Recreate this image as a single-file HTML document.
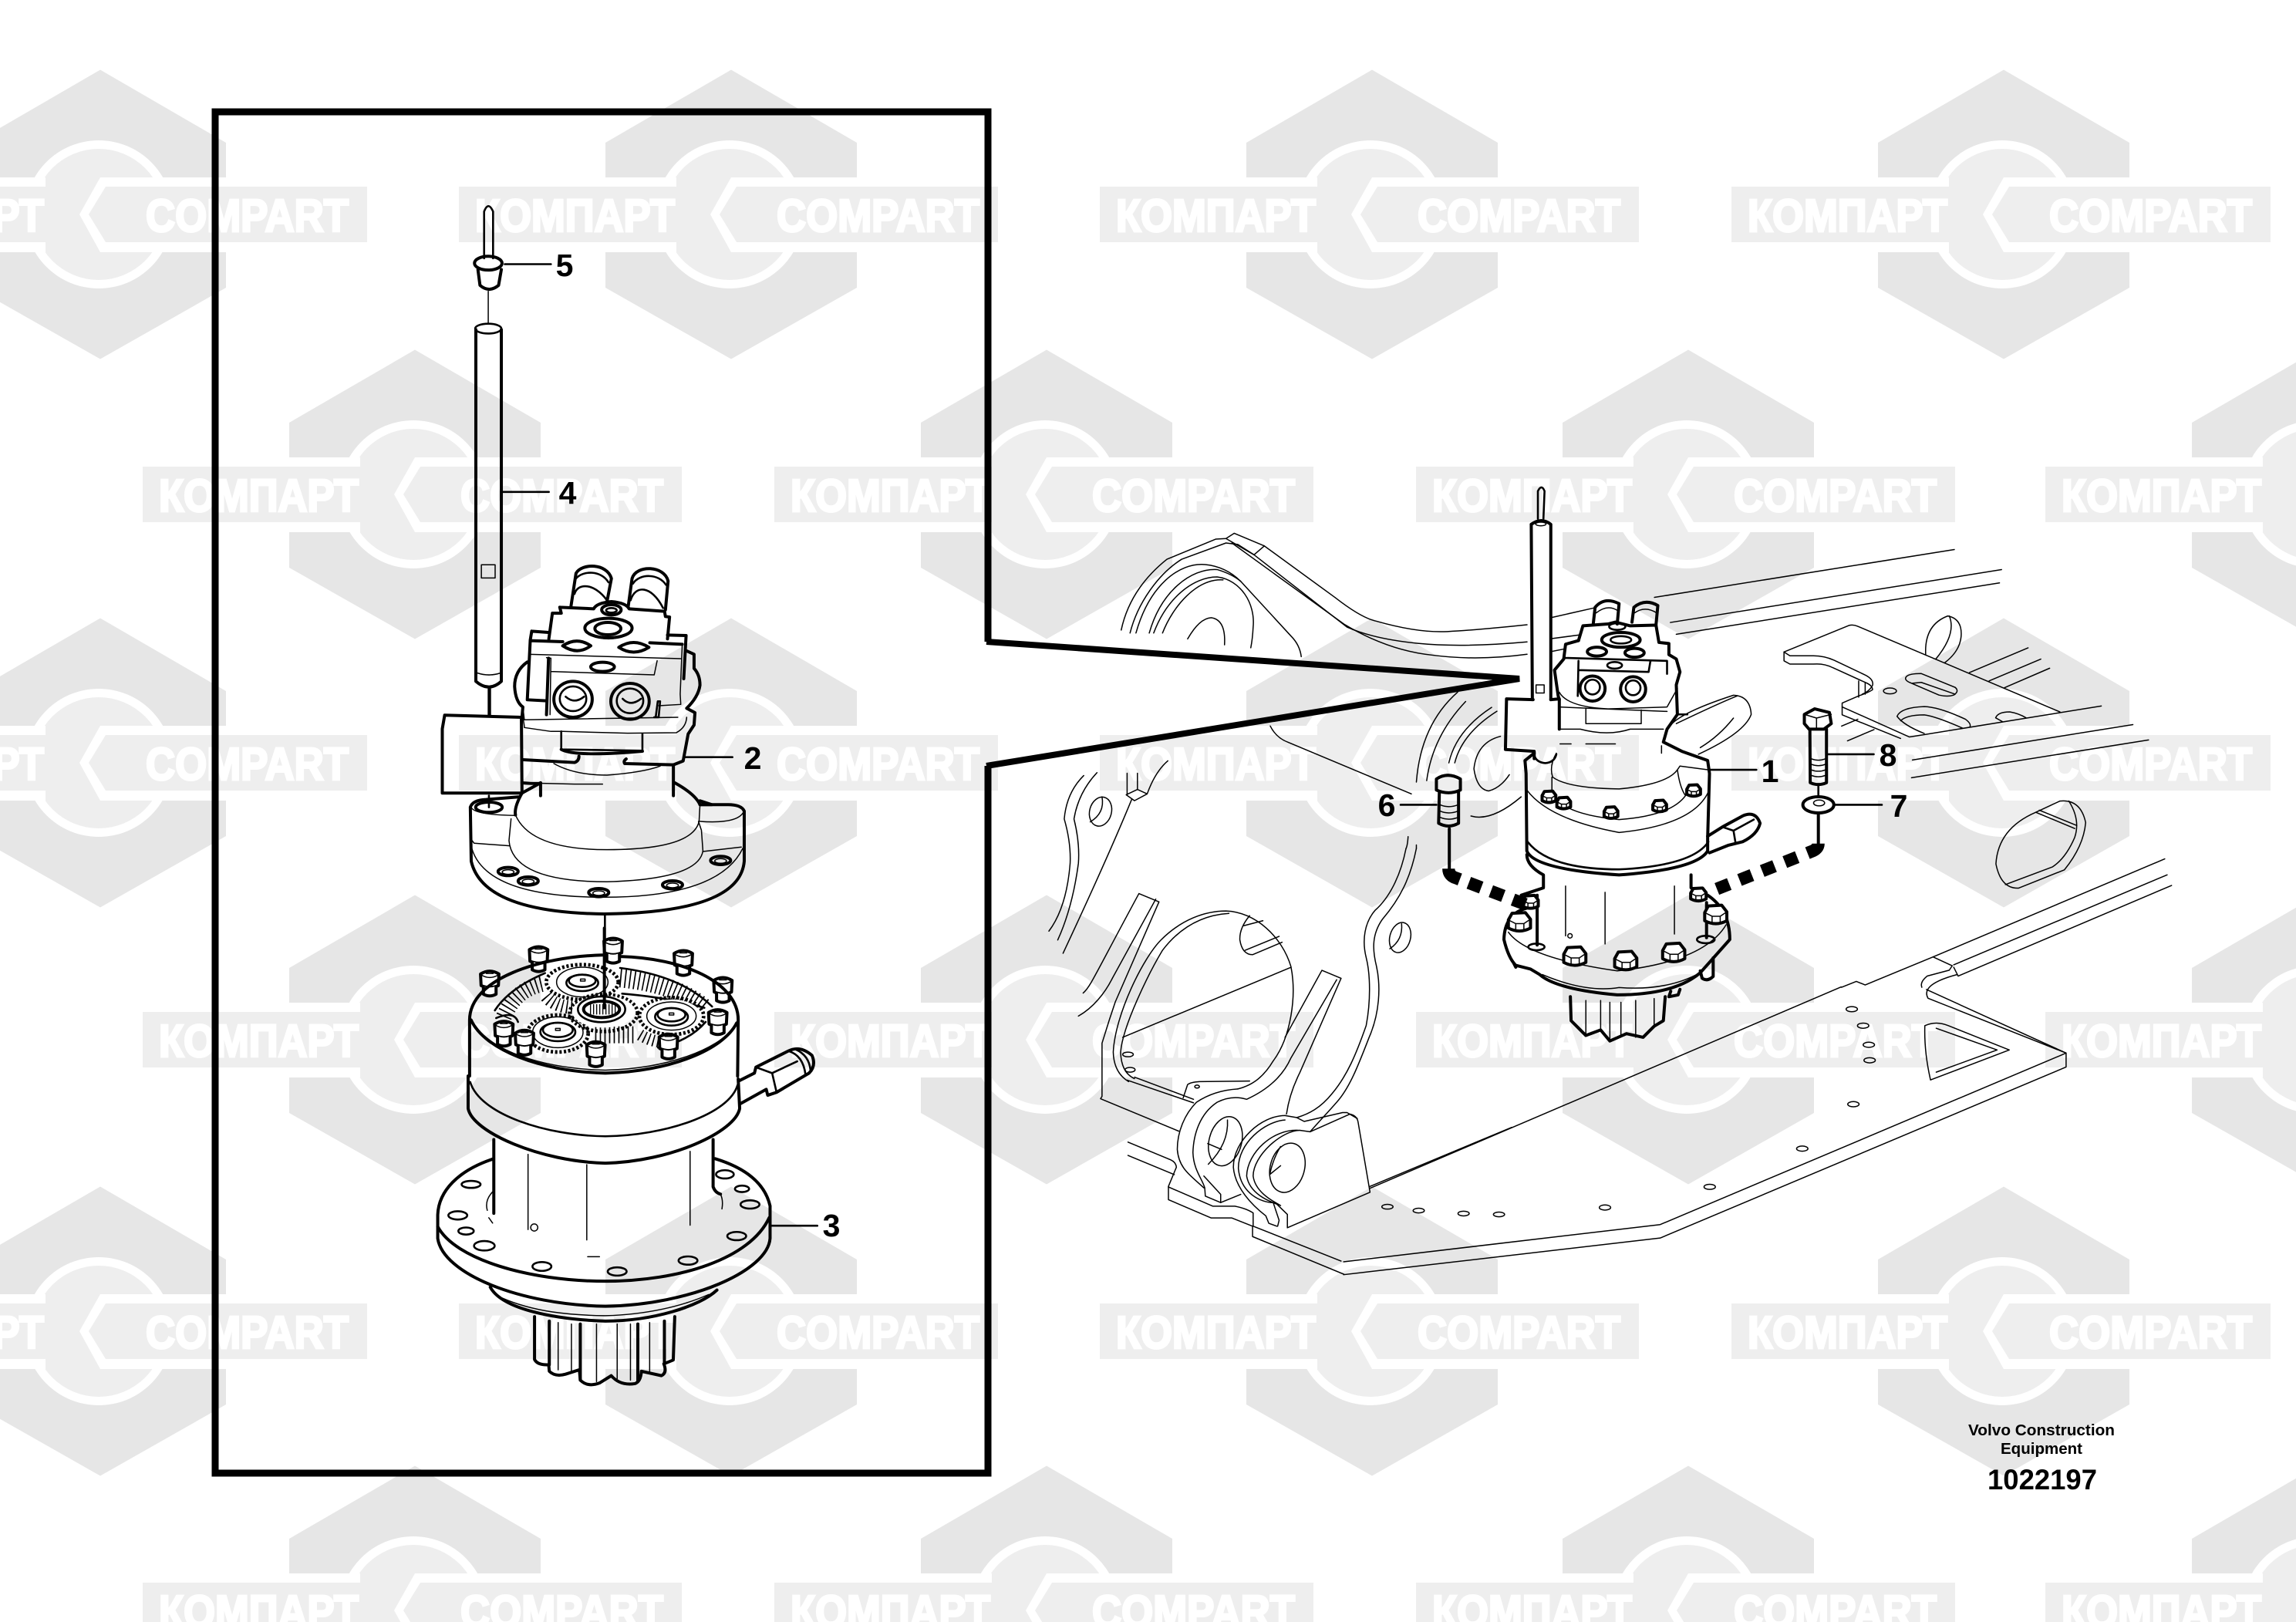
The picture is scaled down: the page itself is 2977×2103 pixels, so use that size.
<!DOCTYPE html>
<html><head><meta charset="utf-8"><style>
html,body{margin:0;padding:0;background:#fff;width:2977px;height:2103px;overflow:hidden}
svg{position:absolute;left:0;top:0;display:block;overflow:hidden}
.T,.t,.m{fill:none;stroke:#000;vector-effect:non-scaling-stroke;stroke-linejoin:round;stroke-linecap:round}
.T{stroke-width:4}.m{stroke-width:2.6}.t{stroke-width:1.5}
.W{fill:#fff}
text.n{font-family:"Liberation Sans",sans-serif;font-weight:700;font-size:41px;text-anchor:middle;fill:#000}
text.f{font-family:"Liberation Sans",sans-serif;font-weight:700;text-anchor:middle;fill:#000}
text.w{font-family:"Liberation Sans",sans-serif;font-weight:700;font-size:59px;fill:#fff;stroke:#fff;stroke-width:3}
</style></head><body>
<svg width="2977" height="2103" viewBox="0 0 2977 2103" xmlns="http://www.w3.org/2000/svg">
<defs>
<g id="wm">
<polygon points="0,-187.5 163,-93 163,95 0,187.5 -163,95 -163,-93" fill="#e6e6e6"/>
<circle r="96" cx="-2" fill="#fff"/><circle r="85" cx="-2" fill="#eee"/>
<rect x="-163" y="-48" width="92" height="97" fill="#fff"/>
<rect x="-353" y="-36" width="282" height="72" fill="#eee"/>
<polygon points="0,-48 -27,0 0,49 170,49 170,-48" fill="#fff"/>
<polygon points="-15,0 7,-36 346,-36 346,36 7,36" fill="#eee"/>
<text class="w" x="-332" y="22" textLength="259" lengthAdjust="spacingAndGlyphs">КОМПАРТ</text>
<text class="w" x="59" y="22" textLength="263" lengthAdjust="spacingAndGlyphs">COMPART</text>
</g>
<g id="sb">
<path class="W" d="M-32 -28 Q0 -48 32 -28 L30 12 Q0 26 -30 12Z"/>
<path class="T" d="M-32 -28 Q0 -48 32 -28 L30 12 Q0 26 -30 12Z"/>
<path class="t" d="M-28 -24 Q0 -8 28 -24 M-12 -30 H12"/>
<path class="W" d="M-22 14 L-22 42 Q0 54 22 42 L22 14 Q0 24 -22 14Z"/>
<path class="T" d="M-22 16 L-22 42 Q0 54 22 42 L22 16"/>
</g>
<g id="hb">
<path class="W" d="M-30 -8 L-20 -26 L16 -28 L30 -10 L30 14 Q0 30 -30 14Z"/>
<path class="T" d="M-30 -8 L-20 -26 L16 -28 L30 -10 L30 14 Q0 30 -30 14Z"/>
<path class="t" d="M-30 -8 L-10 2 L12 2 L30 -10 M-10 2 V22 M12 2 V22"/>
</g>
</defs>

<!-- watermark -->
<use href="#wm" x="130" y="278"/><use href="#wm" x="948" y="278"/><use href="#wm" x="1779" y="278"/><use href="#wm" x="2598" y="278"/>
<use href="#wm" x="538" y="641"/><use href="#wm" x="1357" y="641"/><use href="#wm" x="2189" y="641"/><use href="#wm" x="3005" y="641"/>
<use href="#wm" x="130" y="989"/><use href="#wm" x="948" y="989"/><use href="#wm" x="1779" y="989"/><use href="#wm" x="2598" y="989"/>
<use href="#wm" x="538" y="1348"/><use href="#wm" x="1357" y="1348"/><use href="#wm" x="2189" y="1348"/><use href="#wm" x="3005" y="1348"/>
<use href="#wm" x="130" y="1726"/><use href="#wm" x="948" y="1726"/><use href="#wm" x="1779" y="1726"/><use href="#wm" x="2598" y="1726"/>
<use href="#wm" x="538" y="2088"/><use href="#wm" x="1357" y="2088"/><use href="#wm" x="2189" y="2088"/><use href="#wm" x="3005" y="2088"/>

<!-- background: lower plate -->
<g transform="translate(1300,650) scale(1.0526,.6698)">
<path class="t" d="M1033 940 L452 1330"/>
<path class="t" d="M1176 916 Q1130 935 1140 962 L1310 1068 L1310 1095 L810 1426 L420 1497"/>
<path class="t" d="M1138 945 L1310 1068 L810 1400 L420 1472"/>
<path class="t" d="M1136 1015 Q1150 1005 1165 1015 L1240 1062 L1143 1120 Q1135 1065 1136 1015 Z M1150 1020 L1225 1062 L1150 1105"/>
<ellipse class="t" cx="742" cy="1367" rx="7" ry="5"/><ellipse class="t" cx="871" cy="1327" rx="7" ry="5"/><ellipse class="t" cx="985" cy="1253" rx="7" ry="5"/><ellipse class="t" cx="1048" cy="1167" rx="7" ry="5"/><ellipse class="t" cx="1046" cy="983" rx="7" ry="5"/><ellipse class="t" cx="1060" cy="1015" rx="7" ry="5"/><ellipse class="t" cx="1067" cy="1052" rx="7" ry="5"/><ellipse class="t" cx="1068" cy="1082" rx="7" ry="5"/>
</g>

<!-- background: upper left -->
<g transform="translate(1360,660) scale(.3827)">
<path class="t" d="M245 410 Q275 270 400 170 L565 102 L600 100 L628 82 L730 125 L970 300 Q1060 370 1110 380 Q1250 420 1350 415 Q1450 410 1620 392"/>
<path class="t" d="M275 420 C300 320 370 220 450 170 L600 115 L640 120 L695 155 L1010 400 Q1100 440 1250 455 Q1400 470 1620 450"/>
<path class="t" d="M600 100 L695 155 L730 125 M620 115 L1000 390 Q1150 480 1300 495 Q1450 515 1620 492"/>
<path class="t" d="M295 420 C340 260 440 180 530 188 Q600 195 650 245 L820 430 Q850 460 855 500"/>
<path class="t" d="M340 420 C380 280 480 200 570 205 Q620 220 650 245"/>
<path class="t" d="M355 420 C400 300 490 230 570 230 C650 240 700 320 692 400 Q690 440 684 470"/>
<path class="t" d="M385 420 C420 330 500 235 590 240"/>
<path class="t" d="M470 440 Q510 370 550 368 Q600 375 595 460"/>
<path class="t" d="M750 735 Q770 775 810 790 L1228 965"/>
<path class="t" d="M1245 925 Q1260 730 1385 620 M1280 920 Q1300 770 1412 652 M1355 860 Q1380 750 1500 672 M1375 860 Q1400 760 1518 685"/>
<path class="t" d="M1530 770 Q1450 790 1440 880 Q1450 950 1490 955 Q1530 945 1560 900 M1430 1040 Q1500 1060 1600 975"/>
<path class="t" d="M1217 1110 Q1215 1140 1210 1150 M1245 1138 V1150"/>
<path class="t" d="M118 903 Q60 960 52 1050 Q75 1130 72 1200 Q60 1350 0 1430 M163 893 Q100 960 85 1050 Q105 1130 100 1200 Q80 1350 30 1460"/>
<path class="t" d="M403 853 Q360 890 333 965 L300 950 L262 968 L290 988 L333 965 M265 895 V968 M300 895 V950 M280 985 Q200 1180 48 1505"/>
<ellipse class="t" cx="175" cy="1025" rx="37" ry="50" transform="rotate(15 175 1025)"/><path class="t" d="M180 975 Q190 1030 140 1060"/>
</g>

<!-- background: lower left with lugs -->
<g transform="translate(1360,1100) scale(.3827)">
<path class="t" d="M116 490 C140 470 150 440 305 153 L373 181 L225 520 L205 580 L180 660 V840 L175 848 L440 958"/>
<path class="t" d="M100 568 C150 540 190 490 215 440 L362 172"/>
<path class="t" d="M270 790 Q220 760 218 690 C225 560 320 370 380 310 C450 240 530 212 600 212 C700 215 790 300 820 400 C840 500 820 640 760 720 C730 770 700 790 680 800 Q660 810 640 815"/>
<path class="t" d="M290 780 Q245 760 243 690 C250 600 340 420 385 345 C450 260 530 225 610 220"/>
<path class="t" d="M265 785 L490 862 M290 775 L490 850"/>
<path class="t" d="M250 640 L820 403"/>
<path class="t" d="M680 228 Q645 270 647 310 Q655 360 690 360 L790 318 M660 262 L725 245 M665 345 L780 298"/>
<path class="t" d="M800 640 L925 413 L990 440 L850 760 Q815 830 805 900"/>
<path class="t" d="M975 445 L820 710 Q780 800 670 850 Q620 835 570 860 C510 900 490 970 488 1030 C490 1090 520 1120 528 1150 L530 1178 L582 1200 V1172 L525 1110"/>
<path class="t" d="M500 860 C460 900 435 960 435 1020 C440 1080 470 1100 525 1150 M500 860 Q560 820 640 815"/>
<path class="t" d="M455 845 L470 800 Q480 792 510 790 L680 788"/>
<ellipse class="t" cx="502" cy="807" rx="8" ry="5"/>
<ellipse class="t" cx="598" cy="992" rx="55" ry="85" transform="rotate(15 598 992)"/>
<path class="t" d="M605 920 Q610 1000 540 1070 M538 1000 L585 1020"/>
<path class="t" d="M800 905 C720 905 625 990 625 1080 C630 1150 690 1210 735 1245 L745 1270 L772 1280"/>
<path class="t" d="M800 920 C730 925 640 1000 642 1085 C650 1170 720 1200 760 1200 L780 1260 L775 1280"/>
<path class="t" d="M845 955 C760 950 672 1030 670 1110 C680 1170 745 1195 772 1205 L808 1240 V1285"/>
<path class="t" d="M850 955 C790 955 692 1040 692 1110 C700 1170 770 1200 785 1210"/>
<path class="t" d="M850 955 L885 960 L1020 900 Q1045 905 1048 930 L1088 1165 L808 1285"/>
<path class="t" d="M800 905 L840 912 L865 925 L995 895 L1010 895 L1045 915"/>
<path class="t" d="M1210 0 C1190 100 1150 170 1105 210 C1070 250 1060 310 1075 370 C1090 430 1090 520 1075 600 C1040 700 1010 770 960 830 C920 880 880 900 840 912"/>
<path class="t" d="M1245 0 C1225 100 1190 170 1130 240 C1095 290 1095 340 1110 400 C1125 470 1120 560 1085 640 C1050 730 1020 810 975 860 C940 900 920 920 885 960"/>
<ellipse class="t" cx="808" cy="1082" rx="58" ry="85" transform="rotate(15 808 1082)"/>
<path class="t" d="M785 1010 Q760 1050 748 1105 L785 1075"/>
<path class="t" d="M268 995 L405 1052 Q430 1060 432 1080 L405 1145 V1190 L550 1252 H620 L690 1280 V1315 L1000 1443"/>
<path class="t" d="M268 1040 L425 1105"/>
<path class="t" d="M405 1147 L555 1212 H630 Q670 1220 692 1235 V1280 L990 1398"/>
<path class="t" d="M582 1200 L650 1172 M1088 1145 L1568 945"/>
<ellipse class="t" cx="1147" cy="1214" rx="19" ry="8"/><ellipse class="t" cx="1253" cy="1227" rx="19" ry="8"/><ellipse class="t" cx="1405" cy="1237" rx="19" ry="8"/><ellipse class="t" cx="1525" cy="1240" rx="19" ry="8"/><ellipse class="t" cx="268" cy="698" rx="18" ry="8"/><ellipse class="t" cx="275" cy="750" rx="17" ry="8"/>
<ellipse class="t" cx="1190" cy="302" rx="35" ry="52" transform="rotate(15 1190 302)"/><path class="t" d="M1195 255 Q1200 310 1155 340"/>
</g>

<!-- background: right plate -->
<g transform="translate(2250,680) scale(.3827)">
<path class="t" d="M-274 247 L742 85 M-220 332 L902 153 M-200 372 L895 198"/>
<path class="t" d="M165 432 L385 342 Q400 338 415 345 L1100 635"/>
<path class="t" d="M165 432 V462 L185 473 H265 Q300 470 330 485 L440 535 Q465 545 465 560 Q450 570 420 580 L362 605 V645 L560 725"/>
<path class="t" d="M165 432 L185 445 H265 Q300 445 335 460 L440 510 Q470 525 465 545 Q455 565 430 575"/>
<path class="t" d="M418 530 V585 M440 535 V575"/>
<path class="t" d="M362 618 L590 720 L640 712 L1240 615"/>
<path class="t" d="M360 683 L415 660 M380 733 L470 695"/>
<path class="t" d="M580 515 Q590 505 630 505 L745 552 Q760 565 740 578 Q720 585 690 578 L590 535 Q570 525 580 515Z M600 538 L630 535 L745 575"/>
<ellipse class="t" cx="524" cy="564" rx="22" ry="10"/>
<path class="t" d="M548 650 Q560 620 640 617 Q690 618 780 660 Q800 675 795 685 M548 650 Q570 680 640 708 M560 665 Q580 645 640 645 Q680 650 770 690"/>
<path class="t" d="M882 655 Q890 635 930 635 Q960 640 985 655 M882 655 L905 668"/>
<path class="t" d="M645 440 Q640 340 720 310 Q770 320 765 380 Q760 430 710 468 M725 310 Q750 370 680 455"/>
<path class="t" d="M793 502 L992 418 M860 530 L1035 456 M912 553 L1065 487"/>
<path class="t" d="M600 798 L1347 678 M597 858 L1400 730"/>
<path class="t" d="M1018 975 L1100 937 Q1170 930 1187 1010 Q1180 1090 1115 1170 L960 1232 Q900 1235 883 1150 Q890 1030 1018 975 Z"/>
<path class="t" d="M1130 937 Q1170 1000 1150 1060 Q1120 1130 1075 1160 L915 1220 M1018 975 L1150 1030 M1030 968 L1157 1020"/>
<path class="t" d="M1455 1133 L670 1465 L440 1560 L410 1548 L360 1568"/>
<path class="t" d="M1463 1187 L740 1492 M1478 1223 L755 1530 L740 1500 M670 1465 L735 1495 L725 1510 L650 1530 Q625 1550 632 1568"/>
</g>

<!-- callout frame -->
<path d="M1281 832 L1281 145 L279 145 L279 1910 L1281 1910 L1281 993" fill="none" stroke="#000" stroke-width="9"/>
<path d="M1279 832 L1970 880 L1279 993" fill="none" stroke="#000" stroke-width="8"/>

<!-- rod in inset -->
<g transform="scale(.8929,.6378)">
<path class="m" d="M703 525 L703 430 Q709 408 716 430 L716 525"/>
<ellipse class="T" cx="709" cy="535" rx="20" ry="14"/>
<path class="T" d="M694 548 L697 580 Q710 596 724 580 L728 548"/>
<path class="t" d="M709 592 V658 M709 1400 V1455"/>
<path class="m" d="M733 537 H800 M730 1000 H797"/>
<ellipse class="m" cx="709" cy="668" rx="19" ry="10"/>
<path class="T" d="M691 670 V1385 Q710 1408 728 1385 V670"/>
<path class="t" d="M693 1368 Q710 1376 727 1368"/>
<rect class="t" x="699" y="1148" width="20" height="27"/>
</g>

<!-- inset motor -->
<g transform="translate(500,700) scale(.3827,.3333)">
<path class="T" d="M628 258 L645 130 C665 90 750 90 765 150 L750 240"/>
<path class="m" d="M645 150 C670 118 730 118 755 165 M640 210 C650 168 705 165 750 235"/>
<path class="T" d="M822 258 L835 150 C850 95 945 100 957 160 L948 272"/>
<path class="m" d="M838 170 C860 130 925 130 950 175 M830 235 C845 175 900 175 940 265"/>
<path class="T" d="M590 262 L595 285 L565 285 L553 385 M590 262 L705 268 Q715 245 765 240 Q815 245 825 268 L945 278 L948 298 L962 300 L955 385"/>
<path class="T" d="M495 355 L490 390 L480 622 L545 626 M495 355 L552 360 M955 370 L1018 372 L1010 540 M490 392 L600 396 M895 400 L1005 406"/>
<path class="t" d="M490 445 L1000 462 M545 458 L560 460 L557 680 M560 512 L910 525 L920 470 M1005 406 L998 600 L1000 640 L925 645"/>
<path class="T" d="M552 460 L545 680"/>
<ellipse class="T" cx="765" cy="272" rx="33" ry="20"/><ellipse class="m" cx="765" cy="274" rx="18" ry="9"/>
<ellipse class="W" cx="755" cy="343" rx="80" ry="38"/><ellipse class="T" cx="755" cy="343" rx="80" ry="38"/><ellipse class="T" cx="753" cy="345" rx="44" ry="24"/>
<path class="t" d="M678 360 Q755 410 832 360"/>
<path class="T" d="M600 412 Q648 375 695 412 Q650 450 600 412Z M790 418 Q840 380 892 418 Q840 455 790 418Z"/>
<ellipse class="T" cx="735" cy="494" rx="40" ry="18"/>
<ellipse class="T" cx="635" cy="620" rx="65" ry="70"/><ellipse class="m" cx="635" cy="618" rx="45" ry="48"/><path class="m" d="M610 610 Q640 640 672 610"/>
<ellipse class="T" cx="828" cy="628" rx="65" ry="70"/><ellipse class="m" cx="828" cy="626" rx="45" ry="48"/><path class="m" d="M803 618 Q830 650 865 618"/>
<path class="m" d="M915 690 L922 628 L930 628 L925 690 H910"/>
<path class="T" d="M480 475 Q437 510 437 570 Q440 630 465 650 L462 690"/>
<path class="T" d="M1020 432 L1045 445 L1045 500 Q1065 525 1065 565 Q1060 610 1020 655 L1048 672 L1045 720 L1025 755 L1008 860 L975 875 L810 870 Q805 860 815 852"/>
<path class="t" d="M465 690 Q470 720 470 730 L560 745 H600 L820 752 L985 750 Q1018 730 1020 690 M465 650 L470 700 L990 690"/>
<path class="m" d="M595 745 V815 L870 820 V755"/>
<path class="T" d="M595 815 Q640 845 870 822 M465 855 L640 866 Q655 860 655 842"/>
<path class="t" d="M570 870 Q640 915 750 915 Q870 905 930 880 M465 945 L640 950 H735"/>
<path class="T" d="M200 682 L460 690 L462 985 L192 985 L192 735 Z"/>
<path class="T" d="M352 580 V685 M975 875 V995 M525 945 V995 M462 945 Q520 950 525 945"/>
<path class="m" d="M350 995 V1040"/>
<ellipse class="T" cx="350" cy="1040" rx="45" ry="20"/>
<path class="T" d="M287 1040 Q295 1012 340 1010 L450 1000 M287 1040 L290 1250 Q330 1450 740 1455 Q1200 1450 1215 1250 L1215 1055 Q1205 1030 1160 1030 L1065 1030"/>
<path class="T" d="M440 1070 Q435 1040 462 985 L525 945 M980 945 Q1050 990 1065 1030 L1105 1030 L1065 1015"/>
<path class="t" d="M440 1070 Q490 1205 750 1205 Q1040 1205 1062 1095 L1065 1030"/>
<path class="t" d="M425 1085 L418 1170 Q430 1330 750 1330 Q1060 1320 1075 1210 L1070 1130 L1060 1095 M290 1040 Q300 1070 440 1072 M1065 1095 Q1190 1105 1212 1060"/>
<path class="t" d="M290 1165 L300 1180 L420 1190 M1075 1212 L1205 1195 M292 1200 Q340 1390 740 1390 Q1130 1390 1210 1200"/>
<ellipse class="T" cx="415" cy="1290" rx="34" ry="16"/><ellipse class="t" cx="415" cy="1292" rx="20" ry="9"/>
<ellipse class="T" cx="483" cy="1327" rx="34" ry="16"/><ellipse class="t" cx="483" cy="1329" rx="20" ry="9"/>
<ellipse class="T" cx="722" cy="1372" rx="34" ry="16"/><ellipse class="t" cx="722" cy="1374" rx="20" ry="9"/>
<ellipse class="T" cx="972" cy="1342" rx="34" ry="16"/><ellipse class="t" cx="972" cy="1344" rx="20" ry="9"/>
<ellipse class="T" cx="1135" cy="1247" rx="34" ry="16"/><ellipse class="t" cx="1135" cy="1249" rx="20" ry="9"/>
<path class="m" d="M743 1460 V1560 M1015 845 H1175"/>
</g>

<!-- gears -->
<g transform="translate(600,1210) scale(.3333)">
<path fill="none" stroke="#000" stroke-width="62" stroke-dasharray="5 13" d="M160 325 Q205 215 320 195"/>
<path fill="none" stroke="#000" stroke-width="72" stroke-dasharray="5 13" d="M612 175 Q830 195 945 295"/>
<path fill="none" stroke="#000" stroke-width="66" stroke-dasharray="5 13" d="M515 395 H665"/>
<path fill="none" stroke="#000" stroke-width="46" stroke-dasharray="5 13" d="M690 395 Q740 425 800 425"/>
<path fill="none" stroke="#000" stroke-width="52" stroke-dasharray="5 13" d="M325 245 Q370 300 480 285"/>
<path class="m" d="M125 300 Q180 215 320 155 M130 330 Q200 300 215 345 M612 135 Q850 165 970 285 M620 235 Q800 250 940 290"/>
<path class="m" d="M945 345 Q880 420 760 445"/>
<ellipse cx="465" cy="190" rx="140" ry="68" fill="none" stroke="#000" stroke-width="14" stroke-dasharray="9 8"/>
<ellipse class="W" cx="465" cy="190" rx="132" ry="60"/><ellipse class="t" cx="465" cy="190" rx="100" ry="58"/>
<ellipse class="m" cx="465" cy="193" rx="62" ry="32"/><ellipse class="m" cx="465" cy="185" rx="52" ry="24"/><rect class="t" x="458" y="178" width="18" height="8"/>
<ellipse cx="812" cy="322" rx="125" ry="72" fill="none" stroke="#000" stroke-width="14" stroke-dasharray="9 8"/>
<ellipse class="W" cx="812" cy="322" rx="116" ry="64"/><ellipse class="t" cx="812" cy="322" rx="96" ry="55"/>
<ellipse class="m" cx="812" cy="325" rx="64" ry="34"/><ellipse class="m" cx="812" cy="317" rx="54" ry="26"/><rect class="t" x="803" y="310" width="18" height="8"/>
<ellipse cx="370" cy="390" rx="118" ry="72" fill="none" stroke="#000" stroke-width="14" stroke-dasharray="9 8"/>
<ellipse class="W" cx="370" cy="390" rx="108" ry="64"/><ellipse class="t" cx="370" cy="385" rx="98" ry="60"/>
<ellipse class="m" cx="370" cy="384" rx="68" ry="36"/><ellipse class="m" cx="370" cy="376" rx="58" ry="28"/><rect class="t" x="361" y="370" width="18" height="8"/>
<ellipse cx="548" cy="310" rx="132" ry="72" fill="none" stroke="#000" stroke-width="14" stroke-dasharray="9 8"/>
<ellipse class="W" cx="548" cy="305" rx="122" ry="62"/>
<path fill="none" stroke="#000" stroke-width="40" stroke-dasharray="4 8" d="M495 296 H600"/>
<ellipse class="T" cx="540" cy="296" rx="70" ry="32"/><ellipse class="m" cx="540" cy="296" rx="92" ry="50"/>
<use href="#sb" transform="translate(295,95) scale(1.12)"/><use href="#sb" transform="translate(585,62) scale(1.12)"/><use href="#sb" transform="translate(858,110) scale(1.12)"/><use href="#sb" transform="translate(1012,215) scale(1.12)"/><use href="#sb" transform="translate(105,190) scale(1.12)"/><use href="#sb" transform="translate(992,340) scale(1.12)"/><use href="#sb" transform="translate(160,385) scale(1.12)"/><use href="#sb" transform="translate(240,420) scale(1.12)"/><use href="#sb" transform="translate(518,465) scale(1.12)"/><use href="#sb" transform="translate(800,435) scale(1.12)"/>
<path class="T" d="M551 -20 V290"/>
</g>

<!-- inset gear housing -->
<g transform="translate(540,1200) scale(.3827)">
<path class="T" d="M180 510 L180 320 C180 180 420 105 630 100 M690 105 C900 110 1090 190 1090 320 L1088 510"/>
<path class="T" d="M185 320 C230 420 420 495 640 500 C860 495 1040 420 1085 330"/>
<path class="t" d="M200 340 C250 420 420 485 640 490 C850 485 1020 420 1075 345"/>
<path class="T" d="M175 510 L175 620 C190 700 420 800 640 805 C860 800 1080 700 1095 620 L1090 520"/>
<path class="m" d="M182 530 C215 640 440 712 640 714 C840 712 1060 640 1088 540"/>
<path class="T" d="M262 725 V975 M1005 725 V885 Q1012 905 1030 910 M262 790 C140 830 75 900 72 980 L72 1060 C90 1180 350 1285 640 1290 C930 1285 1190 1170 1198 1060 L1198 950 C1180 870 1110 820 1012 790"/>
<path class="T" d="M72 1020 C130 1130 380 1205 640 1205 C890 1205 1130 1130 1195 990"/>
<path class="t" d="M378 775 V1030 M577 810 V1065 M927 765 V1015 M580 1122 H620 M260 900 Q230 930 240 965 M1030 910 Q1040 930 1035 960 M245 990 L258 1008"/>
<circle class="t" cx="399" cy="1023" r="12"/>
<ellipse class="m" cx="185" cy="877" rx="32" ry="12"/><ellipse class="m" cx="140" cy="982" rx="32" ry="14"/><ellipse class="m" cx="168" cy="1035" rx="26" ry="12"/><ellipse class="m" cx="230" cy="1085" rx="35" ry="16"/><ellipse class="m" cx="425" cy="1155" rx="32" ry="15"/><ellipse class="m" cx="680" cy="1172" rx="32" ry="14"/><ellipse class="m" cx="920" cy="1135" rx="32" ry="14"/><ellipse class="m" cx="1085" cy="1052" rx="32" ry="14"/><ellipse class="m" cx="1130" cy="945" rx="32" ry="14"/><ellipse class="m" cx="1103" cy="892" rx="24" ry="11"/><ellipse class="m" cx="1045" cy="843" rx="30" ry="14"/>
<path class="T" d="M250 1225 C290 1300 470 1335 640 1340 C800 1340 960 1290 1018 1235"/>
<path class="t" d="M290 1262 C400 1310 520 1320 640 1322 C780 1318 900 1290 990 1250"/>
<path class="T" d="M400 1325 L400 1470 Q410 1490 448 1488 L450 1510 Q470 1530 505 1520 L552 1505 L555 1540 Q580 1565 620 1550 L660 1525 Q690 1560 740 1552 Q760 1545 762 1510 L830 1525 Q850 1515 838 1485 L870 1472 L875 1325"/>
<path class="T" d="M450 1340 V1488 M555 1350 V1540 M750 1350 V1545 M840 1340 V1485"/>
<path class="t" d="M480 1345 V1505 M525 1350 V1510 M610 1350 V1545 M680 1350 V1535 M725 1350 V1540 M790 1345 V1515"/>
<path class="T" d="M1095 525 L1145 500 L1150 480 L1260 425 Q1300 405 1340 440 Q1355 475 1330 500 L1220 565 L1190 575 L1185 555 L1095 605"/>
<path class="m" d="M1150 480 L1205 500 L1220 565 M1205 500 L1290 460 M1260 425 Q1310 440 1318 505 M1285 420 Q1330 440 1335 490"/>
<path class="m" d="M1200 1017 H1358"/>
</g>

<!-- right motor -->
<g transform="translate(1750,620) scale(.4785)">
<path class="t" d="M545 378 L660 352 M545 435 L620 425 M545 470 L585 462"/>
<path class="t" d="M862 680 Q880 640 1040 588 Q1085 590 1088 640 Q1070 690 945 748 M885 665 Q1000 610 1050 590 M1040 650 Q1000 700 950 730"/>
<path class="m" d="M510 110 L510 35 Q520 15 528 35 L525 110"/>
<path class="T" d="M492 125 Q520 105 545 125 L545 600 M492 125 L495 600"/>
<ellipse class="t" cx="518" cy="124" rx="14" ry="5"/>
<rect class="t" x="505" y="560" width="22" height="22"/>
<path class="T" d="M425 598 L497 600 M545 600 L568 598 L568 680 M425 598 L422 735 L500 740 L500 760"/>
<path class="T" d="M660 395 L665 350 Q690 320 730 340 L725 395 M765 390 L770 350 Q800 325 835 345 L830 398"/>
<path class="t" d="M668 365 Q700 340 728 360 M772 365 Q800 345 832 365"/>
<path class="T" d="M620 440 L632 400 L700 395 L720 390 L760 400 L830 398 L838 445 L865 448 L865 478 L885 490 L895 525 L885 560 L888 640 L860 680 L850 715 L900 740 L970 765 L975 800 L970 975 L970 1010 Q940 1060 730 1075 Q500 1060 480 1010 L478 800 L475 765 L500 745"/>
<path class="T" d="M620 440 L585 450 L580 490 L555 520 L565 590 L568 600"/>
<path class="m" d="M585 487 L860 495 L860 530 M620 495 L618 590 M620 520 L810 525 L815 495"/>
<path class="t" d="M568 580 Q590 620 700 625 L860 620 L888 570 M568 620 L860 632 M640 625 V665 L790 665 V628 M625 680 Q700 700 760 680 M568 680 H625 M760 680 H850 M570 720 L600 720 M640 720 H720"/>
<path class="T" d="M480 1020 Q480 1050 525 1075 L525 1110 L465 1130 L480 1165 Q420 1180 418 1250 Q430 1300 450 1320 L490 1330 L515 1345 Q560 1385 725 1400 Q880 1400 950 1340 L1030 1250 Q1030 1170 970 1130 L925 1110 V1075"/>
<ellipse class="W" cx="735" cy="438" rx="52" ry="20"/><ellipse class="T" cx="735" cy="438" rx="52" ry="20"/><ellipse class="m" cx="735" cy="438" rx="28" ry="10"/>
<ellipse class="m" cx="725" cy="402" rx="22" ry="9"/><ellipse class="T" cx="670" cy="470" rx="26" ry="12"/><ellipse class="T" cx="772" cy="473" rx="26" ry="12"/><ellipse class="m" cx="718" cy="507" rx="20" ry="9"/>
<ellipse class="T" cx="658" cy="570" rx="34" ry="34"/><ellipse class="m" cx="658" cy="566" rx="20" ry="20"/>
<ellipse class="T" cx="768" cy="572" rx="34" ry="34"/><ellipse class="m" cx="768" cy="568" rx="20" ry="20"/>
<path class="m" d="M915 640 H888"/>
<path class="t" d="M560 745 Q540 780 550 810 Q590 840 730 842 Q860 830 888 790 L895 780 L970 790 M888 790 Q895 840 910 860 M548 810 V850 Q570 910 730 925 Q870 915 910 860 M480 845 Q540 925 730 960 Q930 940 972 850 M845 725 V745"/>
<path class="m" d="M482 985 Q540 1060 730 1060 Q930 1050 972 985"/>
<path class="t" d="M585 1105 V1240 M692 1122 V1262 M880 1105 V1235"/>
<path class="t" d="M430 1230 Q480 1300 725 1335 Q960 1310 1020 1210 M522 1345 Q640 1395 730 1380 Q860 1390 950 1340"/>
<circle class="t" cx="597" cy="1240" r="6"/>
<path class="T" d="M508 1130 V1265 M967 1150 V1245"/>
<ellipse class="m" cx="506" cy="1270" rx="22" ry="9"/><ellipse class="m" cx="965" cy="1250" rx="24" ry="10"/>
<use href="#hb" x="460" y="1205"/><use href="#hb" x="610" y="1298"/><use href="#hb" x="748" y="1310"/><use href="#hb" x="878" y="1288"/><use href="#hb" x="992" y="1185"/>
<use href="#hb" transform="translate(945,1130) scale(.7)"/><use href="#hb" transform="translate(490,1150) scale(.7)"/>
<g transform="translate(540,865) scale(.62)"><use href="#hb"/></g>
<g transform="translate(580,882) scale(.62)"><use href="#hb"/></g>
<g transform="translate(708,908) scale(.62)"><use href="#hb"/></g>
<g transform="translate(840,890) scale(.62)"><use href="#hb"/></g>
<g transform="translate(932,848) scale(.62)"><use href="#hb"/></g>
<path class="m" d="M500 750 Q505 770 530 772 Q555 770 560 748"/>
<path class="T" d="M598 1405 L600 1470 L620 1490 L640 1510 L680 1495 L705 1525 L750 1505 L795 1515 L825 1485 L850 1470 L855 1405"/>
<path class="t" d="M640 1415 V1510 M680 1415 V1495 M705 1420 V1525 M735 1420 V1510 M775 1415 V1515 M825 1410 V1485"/>
<path class="T" d="M950 1335 L955 1355 Q970 1365 985 1350 L985 1300 M870 1390 L865 1405 L890 1400 L895 1385 M445 1315 L450 1325"/>
<path class="T" d="M970 970 L1010 945 L1065 915 Q1100 900 1112 935 Q1105 965 1065 985 L1025 995 L975 1015"/>
<path class="m" d="M1010 945 L1040 955 L1045 985 M1040 955 L1095 925"/>
<path class="T" d="M270 950 V1062 M1270 910 V992"/>
<path d="M268 1058 Q268 1078 290 1084 L480 1156" fill="none" stroke="#000" stroke-width="34" stroke-dasharray="46 26 36 28 36 28 36 30"/>
<path d="M1270 990 Q1270 1005 1250 1012 L972 1122" fill="none" stroke="#000" stroke-width="34" stroke-dasharray="42 30 36 30 36 30 36 30 36"/>
<path class="T" d="M235 815 Q265 795 300 815 L300 845 Q268 860 235 845 Z M243 850 L241 935 Q268 950 295 935 L295 850"/>
<path class="t" d="M245 885 Q268 895 294 885 M245 902 Q268 912 294 902 M245 919 Q268 929 294 919"/>
<path class="T" d="M1232 640 L1260 625 L1300 635 L1305 665 L1285 680 L1245 680 L1232 665Z M1247 680 L1248 825 Q1270 835 1292 825 L1292 680"/>
<path class="t" d="M1232 640 L1265 650 L1305 640 M1265 650 V678 M1250 760 Q1270 768 1290 760 M1250 775 Q1270 783 1290 775 M1250 790 Q1270 798 1290 790 M1250 805 Q1270 813 1290 805"/>
<path class="m" d="M1270 832 V860"/>
<ellipse class="T" cx="1270" cy="885" rx="42" ry="22"/><ellipse class="t" cx="1272" cy="880" rx="15" ry="8"/>
<path class="m" d="M975 790 H1102 M1292 748 H1420 M1315 885 H1442 M138 885 H235"/>
</g>

<text class="n" x="732" y="358">5</text>
<text class="n" x="736" y="653">4</text>
<text class="n" x="976" y="997">2</text>
<text class="n" x="1078" y="1603">3</text>
<text class="n" x="2295" y="1014">1</text>
<text class="n" x="2448" y="993">8</text>
<text class="n" x="2462" y="1059">7</text>
<text class="n" x="1798" y="1058">6</text>
<text class="f" x="2647" y="1861" font-size="20" textLength="190" lengthAdjust="spacingAndGlyphs">Volvo Construction</text>
<text class="f" x="2647" y="1885" font-size="20" textLength="106" lengthAdjust="spacingAndGlyphs">Equipment</text>
<text class="f" x="2648" y="1931" font-size="37" textLength="142" lengthAdjust="spacingAndGlyphs">1022197</text>
</svg>
</body></html>
